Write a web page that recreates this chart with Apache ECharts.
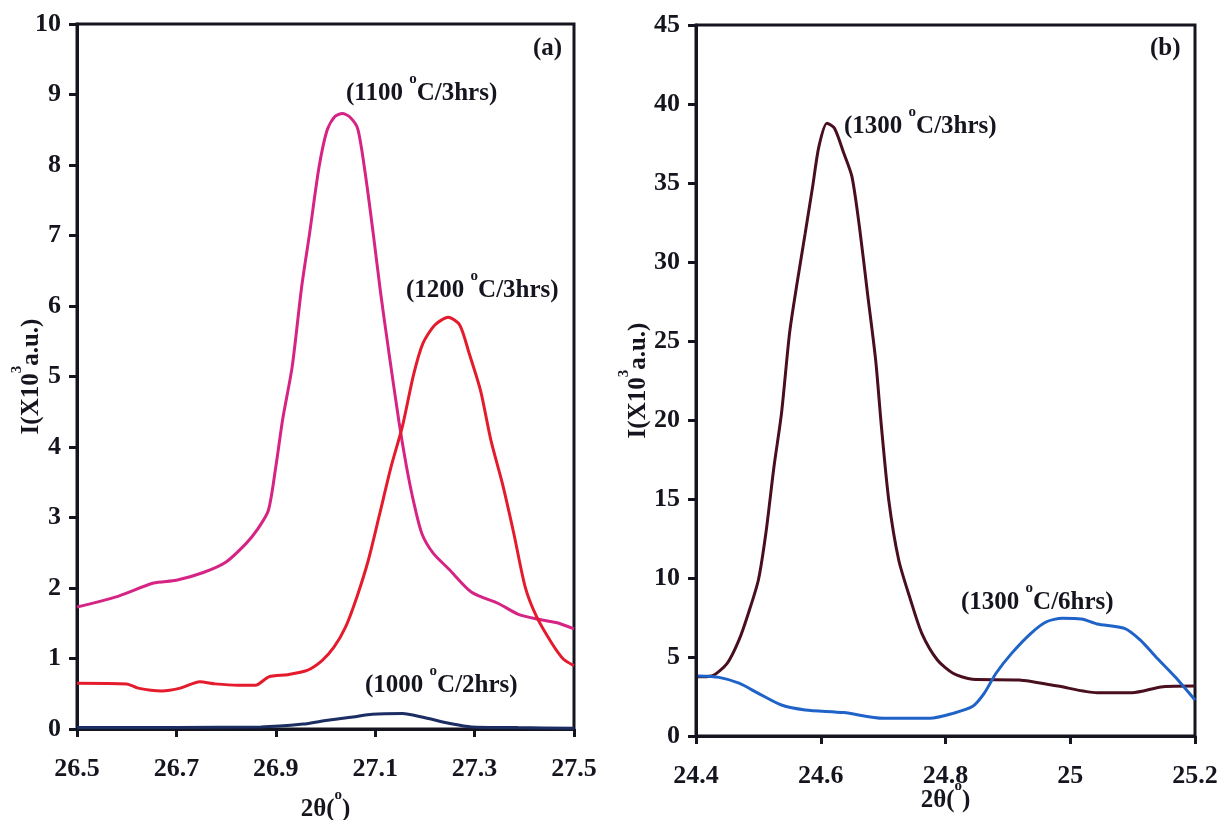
<!DOCTYPE html>
<html>
<head>
<meta charset="utf-8">
<script src="https://cdn.jsdelivr.net/npm/echarts@6/dist/echarts.min.js"></script>
<style>
  html, body { margin: 0; padding: 0; background: #fff; }
  #chart { width: 1219px; height: 820px; }
</style>
</head>
<body>
<div id="chart"></div>
<script>
// Panel (a): XRD peak around 27.1°, three heat treatments
const theta1000 = [26.5, 26.87, 26.955, 27.0, 27.055, 27.094, 27.155, 27.194, 27.256, 27.294, 27.387, 27.5];
const int1000   = [0.02, 0.03, 0.07, 0.12, 0.17, 0.21, 0.22, 0.17, 0.07, 0.03, 0.02, 0.01];

const theta1100 = [26.5, 26.577, 26.654, 26.7, 26.754, 26.8, 26.84, 26.862, 26.885, 26.9, 26.914, 26.933, 26.952,
                   26.968, 26.987, 27.003, 27.018, 27.034, 27.049, 27.065, 27.08, 27.096, 27.111, 27.127, 27.148,
                   27.163, 27.178, 27.194, 27.217, 27.248, 27.294, 27.348, 27.387, 27.425, 27.464, 27.5];
const int1100   = [1.73, 1.87, 2.07, 2.11, 2.22, 2.37, 2.63, 2.82, 3.1, 3.72, 4.4, 5.14, 6.27,
                   7.03, 7.97, 8.49, 8.68, 8.73, 8.68, 8.51, 7.88, 7.03, 6.18, 5.37, 4.35,
                   3.72, 3.2, 2.77, 2.49, 2.27, 1.94, 1.78, 1.63, 1.56, 1.51, 1.42];

const theta1200 = [26.5, 26.6, 26.623, 26.67, 26.708, 26.747, 26.778, 26.824, 26.859, 26.886, 26.924, 26.963,
                   26.993, 27.017, 27.04, 27.063, 27.086, 27.109, 27.132, 27.155, 27.177, 27.196, 27.22, 27.247,
                   27.27, 27.289, 27.312, 27.333, 27.356, 27.379, 27.402, 27.425, 27.456, 27.479, 27.5];
const int1200   = [0.65, 0.64, 0.58, 0.54, 0.58, 0.67, 0.64, 0.62, 0.62, 0.74, 0.77, 0.83,
                   0.97, 1.16, 1.44, 1.87, 2.39, 3.05, 3.72, 4.3, 5.02, 5.47, 5.73, 5.84,
                   5.73, 5.33, 4.8, 4.09, 3.48, 2.77, 2.01, 1.59, 1.21, 0.99, 0.9];

// Panel (b): XRD peaks around 24.6° and 25.0°, 1300 °C
const theta1300a = [24.403, 24.425, 24.45, 24.469, 24.484, 24.5, 24.512, 24.525, 24.537, 24.55, 24.562, 24.575,
                    24.587, 24.597, 24.61, 24.622, 24.637, 24.65, 24.662, 24.675, 24.688, 24.697, 24.709, 24.725,
                    24.744, 24.762, 24.787, 24.812, 24.843, 24.918, 24.98, 25.043, 25.099, 25.149, 25.2];
const int1300a   = [3.75, 3.8, 4.6, 6.08, 7.77, 9.87, 12.83, 17.04, 20.4, 25.5, 28.65, 31.8,
                    34.77, 37.3, 38.78, 38.46, 36.88, 35.4, 32.23, 28.0, 23.8, 19.7, 14.94, 11.14,
                    8.61, 6.5, 4.81, 3.97, 3.59, 3.54, 3.16, 2.74, 2.74, 3.12, 3.16];

const theta1300b = [24.403, 24.437, 24.469, 24.5, 24.537, 24.575, 24.637, 24.7, 24.775, 24.812, 24.843, 24.862,
                    24.881, 24.906, 24.937, 24.962, 24.987, 25.018, 25.043, 25.087, 25.112, 25.137, 25.168, 25.2];
const int1300b   = [3.8, 3.71, 3.34, 2.7, 1.96, 1.65, 1.48, 1.12, 1.12, 1.43, 1.86, 2.7,
                    3.97, 5.23, 6.5, 7.23, 7.45, 7.41, 7.09, 6.81, 6.08, 5.02, 3.75, 2.28];

const xTicksA = { min: 26.5, max: 27.5, interval: 0.2 };
const xTicksB = { min: 24.4, max: 25.2, interval: 0.2 };
const yTicksA = { min: 0, max: 10, interval: 1 };
const yTicksB = { min: 0, max: 45, interval: 5 };

const FONT = 'Liberation Serif';
const INK = '#15151f';

const pairs = (xs, ys) => xs.map((x, i) => [x, ys[i]]);
const fmt = v => String(Number(v.toFixed(1)));

// rich styles: main text sits at the bottom of a tall line, the superscript at its top
const nameRich = {
  t:   { fontFamily: FONT, fontWeight: 'bold', fontSize: 25, color: INK, verticalAlign: 'bottom', lineHeight: 34 },
  sup: { fontFamily: FONT, fontWeight: 'bold', fontSize: 15, color: INK, verticalAlign: 'top', lineHeight: 34 }
};

function xAxisCfg(idx, t, gap) {
  return {
    type: 'value', gridIndex: idx, min: t.min, max: t.max, interval: t.interval,
    name: '{t|2θ(}{sup|o}{t|)}', nameLocation: 'middle', nameGap: gap, nameMoveOverlap: false,
    nameTextStyle: { fontFamily: FONT, fontWeight: 'bold', fontSize: 25, color: INK, rich: nameRich },
    axisLine: { show: true, onZero: false, lineStyle: { color: INK, width: 3 } },
    axisTick: { show: true, inside: false, length: 8, lineStyle: { color: INK, width: 3 } },
    axisLabel: { formatter: fmt, margin: 27, fontFamily: FONT, fontWeight: 'bold', fontSize: 26, color: INK },
    splitLine: { show: false }
  };
}

function yAxisCfg(idx, t, gap) {
  return {
    type: 'value', gridIndex: idx, min: t.min, max: t.max, interval: t.interval,
    name: '{t|I(X10}{sup|3}{t|a.u.)}', nameLocation: 'middle', nameGap: gap, nameRotate: 90, nameMoveOverlap: false,
    nameTextStyle: { fontFamily: FONT, fontWeight: 'bold', fontSize: 25, color: INK, rich: nameRich },
    axisLine: { show: true, onZero: false, lineStyle: { color: INK, width: 3 } },
    axisTick: { show: true, inside: false, length: 8, lineStyle: { color: INK, width: 3 } },
    axisLabel: { margin: 16, fontFamily: FONT, fontWeight: 'bold', fontSize: 26, color: INK },
    splitLine: { show: false }
  };
}

function curve(name, xi, xs, ys, color, z) {
  return {
    name, type: 'line', xAxisIndex: xi, yAxisIndex: xi,
    data: pairs(xs, ys), showSymbol: false, smooth: 0.25, z: z || 2,
    lineStyle: { color, width: 3 }, itemStyle: { color }
  };
}

const noteRich = {
  t:   { fontFamily: FONT, fontWeight: 'bold', fontSize: 25, fill: INK, verticalAlign: 'bottom', lineHeight: 34 },
  sup: { fontFamily: FONT, fontWeight: 'bold', fontSize: 15, fill: INK, verticalAlign: 'top', lineHeight: 34 }
};
function note(label, x, y) {
  return {
    type: 'text', x, y, z: 10,
    style: { text: label, rich: noteRich, fontFamily: FONT, fontWeight: 'bold', fontSize: 25, fill: INK, verticalAlign: 'middle' }
  };
}

const chart = echarts.init(document.getElementById('chart'), null, { renderer: 'canvas' });
chart.setOption({
  backgroundColor: '#ffffff',
  animation: false,
  grid: [
    { left: 77, right: 645, top: 24, bottom: 91, outerBoundsMode: 'none', containLabel: false,
      show: true, borderColor: INK, borderWidth: 3, backgroundColor: 'transparent' },
    { left: 696, right: 24, top: 25, bottom: 84, outerBoundsMode: 'none', containLabel: false,
      show: true, borderColor: INK, borderWidth: 3, backgroundColor: 'transparent' }
  ],
  xAxis: [xAxisCfg(0, xTicksA, 59), xAxisCfg(1, xTicksB, 43)],
  yAxis: [yAxisCfg(0, yTicksA, 33), yAxisCfg(1, yTicksB, 45)],
  series: [
    curve('1100 °C/3hrs', 0, theta1100, int1100, '#d62484'),
    curve('1200 °C/3hrs', 0, theta1200, int1200, '#e41b2c'),
    curve('1000 °C/2hrs', 0, theta1000, int1000, '#1b2d62', 3),
    curve('1300 °C/3hrs', 1, theta1300a, int1300a, '#4a0f1e'),
    curve('1300 °C/6hrs', 1, theta1300b, int1300b, '#1f63c8', 3)
  ],
  graphic: [
    note('{t|(a)}', 533, 44),
    note('{t|(b)}', 1150, 44),
    note('{t|(1100 }{sup|o}{t|C/3hrs)}', 346, 89),
    note('{t|(1200 }{sup|o}{t|C/3hrs)}', 406, 286),
    note('{t|(1000 }{sup|o}{t|C/2hrs)}', 365, 681),
    note('{t|(1300 }{sup|o}{t|C/3hrs)}', 844, 122),
    note('{t|(1300 }{sup|o}{t|C/6hrs)}', 961, 598)
  ]
});
</script>
</body>
</html>
